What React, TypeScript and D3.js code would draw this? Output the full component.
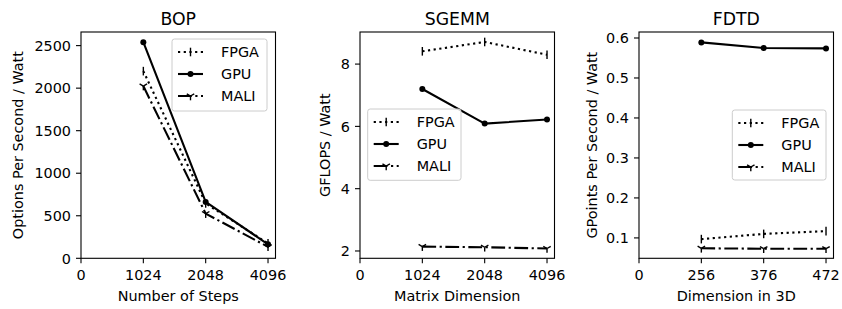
import React from "react";
import * as d3 from "d3";

// x axis is categorical: position 0 is the "0" tick, points sit at 1, 2, 3
const bopX = ["0", "1024", "2048", "4096"];
const sgemmX = ["0", "1024", "2048", "4096"];
const fdtdX = ["0", "256", "376", "472"];

const bopFPGA = [2200, 645, 175];
const bopGPU = [2540, 662, 165];
const bopMALI = [2025, 525, 135];

const sgemmFPGA = [8.41, 8.71, 8.3];
const sgemmGPU = [7.2, 6.09, 6.22];
const sgemmMALI = [2.14, 2.12, 2.08];

const fdtdFPGA = [0.097, 0.11, 0.117];
const fdtdGPU = [0.589, 0.575, 0.574];
const fdtdMALI = [0.074, 0.073, 0.073];

const bopYTicks = [0, 500, 1000, 1500, 2000, 2500];
const sgemmYTicks = [2, 4, 6, 8];
const fdtdYTicks = [0.1, 0.2, 0.3, 0.4, 0.5, 0.6];

const seriesNames = ["FPGA", "GPU", "MALI"];

const W = 842;
const H = 309;
const top = 32;
const bottom = 258.3;
const plotW = 194.5;
const font = "DejaVu Sans, sans-serif";
const LW = 2.1;
const FS = 14.4;

const dashes: Record<string, string | undefined> = {
  FPGA: "2.2,3.5",
  GPU: undefined,
  MALI: "13.8,3.5,2.2,3.5",
};

function Marker({ name, x, y }: { name: string; x: number; y: number }) {
  if (name === "FPGA") {
    return <line x1={x} x2={x} y1={y - 4.3} y2={y + 4.3} stroke="#000" strokeWidth={1.4} />;
  }
  if (name === "GPU") {
    return <circle cx={x} cy={y} r={3} fill="#000" />;
  }
  const r = 4.3;
  return (
    <g stroke="#000" strokeWidth={1.4} fill="none">
      <line x1={x} y1={y} x2={x} y2={y + r} />
      <line x1={x} y1={y} x2={x - r * 0.866} y2={y - r * 0.5} />
      <line x1={x} y1={y} x2={x + r * 0.866} y2={y - r * 0.5} />
    </g>
  );
}

type PanelProps = {
  left: number;
  title: string;
  xLabel: string;
  yLabel: string;
  yLabelX: number;
  xTicks: string[];
  yTicks: number[];
  yDomain: [number, number];
  yFormat: (v: number) => string;
  series: number[][];
  legend: { x: number; y: number; w: number; h: number };
};

function Panel(p: PanelProps) {
  const x = d3.scaleLinear().domain([0, 3.12]).range([p.left, p.left + plotW]);
  const y = d3.scaleLinear().domain(p.yDomain).range([bottom, top]);
  const line = d3
    .line<number>()
    .x((_, i) => x(i + 1))
    .y((d) => y(d));
  const cx = p.left + plotW / 2;
  const lg = p.legend;
  return (
    <g fontFamily={font} fill="#000">
      <text x={cx} y={25} textAnchor="middle" fontSize={17.3}>
        {p.title}
      </text>
      {p.series.map((s, k) => (
        <g key={k}>
          <path
            d={line(s) || ""}
            fill="none"
            stroke="#000"
            strokeWidth={LW}
            strokeDasharray={dashes[seriesNames[k]]}
            strokeLinejoin="round"
          />
          {s.map((v, i) => (
            <Marker key={i} name={seriesNames[k]} x={x(i + 1)} y={y(v)} />
          ))}
        </g>
      ))}
      <rect
        x={p.left}
        y={top}
        width={plotW}
        height={bottom - top}
        fill="none"
        stroke="#000"
        strokeWidth={1.1}
      />
      {p.xTicks.map((t, i) => (
        <g key={t}>
          <line x1={x(i)} x2={x(i)} y1={bottom} y2={bottom + 5} stroke="#000" strokeWidth={1.1} />
          <text x={x(i)} y={bottom + 21.8} textAnchor="middle" fontSize={FS}>
            {t}
          </text>
        </g>
      ))}
      {p.yTicks.map((t) => (
        <g key={t}>
          <line x1={p.left - 5} x2={p.left} y1={y(t)} y2={y(t)} stroke="#000" strokeWidth={1.1} />
          <text x={p.left - 10} y={y(t) + 5.2} textAnchor="end" fontSize={FS}>
            {p.yFormat(t)}
          </text>
        </g>
      ))}
      <text x={cx} y={301} textAnchor="middle" fontSize={FS}>
        {p.xLabel}
      </text>
      <text
        transform={`translate(${p.yLabelX},${(top + bottom) / 2}) rotate(-90)`}
        textAnchor="middle"
        fontSize={FS}
      >
        {p.yLabel}
      </text>
      <rect
        x={lg.x}
        y={lg.y}
        width={lg.w}
        height={lg.h}
        rx={2.5}
        fill="#fff"
        fillOpacity={0.8}
        stroke="#cccccc"
        strokeWidth={1}
      />
      {seriesNames.map((n, k) => {
        const ry = lg.y + 13 + k * 22;
        const lx = lg.x + 6;
        return (
          <g key={n}>
            <line
              x1={lx}
              x2={lx + 25}
              y1={ry}
              y2={ry}
              stroke="#000"
              strokeWidth={LW}
              strokeDasharray={dashes[n]}
            />
            <Marker name={n} x={lx + 12.5} y={ry} />
            <text x={lg.x + 49} y={ry + 5.2} fontSize={FS}>
              {n}
            </text>
          </g>
        );
      })}
    </g>
  );
}

export default function App() {
  return (
    <svg
      width={W}
      height={H}
      style={{ position: "absolute", left: 0, top: 0, background: "#fff" }}
    >
      <Panel
        left={81}
        title="BOP"
        xLabel="Number of Steps"
        yLabel="Options Per Second / Watt"
        yLabelX={23}
        xTicks={bopX}
        yTicks={bopYTicks}
        yDomain={[0, 2660]}
        yFormat={(v) => String(v)}
        series={[bopFPGA, bopGPU, bopMALI]}
        legend={{ x: 172, y: 39, w: 95, h: 72 }}
      />
      <Panel
        left={360}
        title="SGEMM"
        xLabel="Matrix Dimension"
        yLabel="GFLOPS / Watt"
        yLabelX={330}
        xTicks={sgemmX}
        yTicks={sgemmYTicks}
        yDomain={[1.765, 9.03]}
        yFormat={(v) => String(v)}
        series={[sgemmFPGA, sgemmGPU, sgemmMALI]}
        legend={{ x: 367.7, y: 109, w: 93.3, h: 71.3 }}
      />
      <Panel
        left={639}
        title="FDTD"
        xLabel="Dimension in 3D"
        yLabel="GPoints Per Second / Watt"
        yLabelX={596.5}
        xTicks={fdtdX}
        yTicks={fdtdYTicks}
        yDomain={[0.049, 0.615]}
        yFormat={(v) => v.toFixed(1)}
        series={[fdtdFPGA, fdtdGPU, fdtdMALI]}
        legend={{ x: 732.3, y: 110, w: 93.7, h: 70 }}
      />
    </svg>
  );
}
